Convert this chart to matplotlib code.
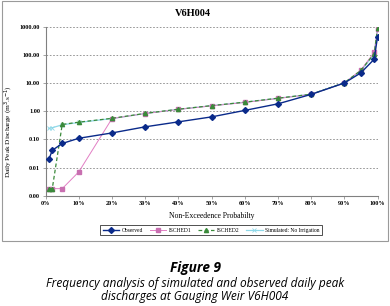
import matplotlib
matplotlib.use("Agg")
import matplotlib.pyplot as plt
from matplotlib.patches import Rectangle
from matplotlib.ticker import FixedLocator, FuncFormatter

prob = [1, 2, 5, 10, 20, 30, 40, 50, 60, 70, 80, 90, 95, 99, 100]
observed = [0.020, 0.041, 0.072, 0.11, 0.17, 0.28, 0.42, 0.63, 1.07, 1.83, 3.96, 10.0, 23.0, 70.0, 435.0]
isched1 = [0.0018, 0.0018, 0.0018, 0.0071, 0.55, 0.83, 1.16, 1.55, 2.05, 2.84, 3.96, 10.0, 29.0, 122.0, 800.0]
isched2 = [0.0018, 0.0018, 0.34, 0.41, 0.56, 0.84, 1.18, 1.58, 2.10, 2.90, 4.0, 10.2, 28.0, 110.0, 900.0]
no_irrig = [0.245, 0.26, 0.33, 0.40, 0.55, 0.83, 1.17, 1.57, 2.08, 2.88, 4.0, 10.1, 27.0, 105.0, 850.0]
yticks = [0.001, 0.01, 0.1, 1, 10, 100, 1000]
xticks = [0, 10, 20, 30, 40, 50, 60, 70, 80, 90, 100]

serif = "Liberation Serif"
fig = plt.figure(figsize=(3.9, 3.06), dpi=100)
fig.patches.append(Rectangle((0.004, 0.214), 0.99, 0.782, transform=fig.transFigure,
                             fill=False, edgecolor="#9a9a9a", linewidth=0.8))
ax = fig.add_axes([0.117, 0.360, 0.851, 0.553])
ax.set_yscale("log")
ax.set_xlim(0, 100)
ax.set_ylim(0.001, 1000)

ax.plot(prob, no_irrig, color="#8fd8e8", lw=0.9, marker="x", ms=2.2, mew=0.6, label="Simulated: No Irrigation", zorder=2)
ax.plot(prob, isched1, color="#e27fc4", lw=0.7, ls="-", marker="s", ms=3, mfc="#c86fb0", mec="#c86fb0", label="ISCHED1", zorder=3)
ax.plot(prob, isched2, color="#3a8a3a", lw=0.9, ls=(0, (3, 2)), marker="^", ms=3, mfc="#3a8a3a", mec="#3a8a3a", label="ISCHED2", zorder=4)
ax.plot(prob, observed, color="#0a2a8a", lw=1.0, marker="D", ms=3, mfc="#0a2a8a", mec="#0a2a8a", label="Observed", zorder=5)

ax.yaxis.set_major_locator(FixedLocator(yticks))
ax.yaxis.set_minor_locator(FixedLocator([]))
ax.yaxis.set_major_formatter(FuncFormatter(lambda v, p: f"{v:.2f}"))
ax.xaxis.set_major_locator(FixedLocator(xticks))
ax.xaxis.set_major_formatter(FuncFormatter(lambda v, p: f"{int(v)}%"))
ax.grid(axis="y", color="#888888", ls=(0, (2, 2)), lw=0.6)
ax.set_axisbelow(True)
for s in ["top", "right"]:
    ax.spines[s].set_visible(False)
for s in ["left", "bottom"]:
    ax.spines[s].set_color("#808080")
    ax.spines[s].set_linewidth(0.8)
ax.tick_params(labelsize=4.5, length=2, width=0.5, color="#808080", pad=2)
for t in ax.get_xticklabels() + ax.get_yticklabels():
    t.set_fontfamily(serif)
    t.set_fontweight("bold")

ax.set_xlabel("Non-Exceedence Probabilty", fontsize=5.5, family=serif, labelpad=4)
ax.set_ylabel("Daily Peak Discharge (m$^3$.s$^{-1}$)", fontsize=5.2, family=serif)
ax.yaxis.set_label_coords(-0.092, 0.38)
fig.text(0.495, 0.955, "V6H004", ha="center", va="center", fontsize=7.5, fontweight="bold", family=serif)

h, l = ax.get_legend_handles_labels()
order = [3, 1, 2, 0]
leg = fig.legend([h[i] for i in order], [l[i] for i in order], loc="center", bbox_to_anchor=(0.541, 0.248),
                 ncol=4, fontsize=4, frameon=True, fancybox=False, edgecolor="#000000",
                 prop={"family": serif, "size": 4}, handlelength=3, columnspacing=1.2,
                 borderpad=0.4, handletextpad=0.4)
leg.get_frame().set_linewidth(0.6)

cap = ["Open Sans", "DejaVu Sans"]
fig.text(0.5, 0.124, "Figure 9", ha="center", va="center", fontsize=9.8, fontweight="bold", style="italic", family=cap)
fig.text(0.5, 0.075, "Frequency analysis of simulated and observed daily peak", ha="center", va="center", fontsize=8.6, style="italic", family=cap)
fig.text(0.5, 0.032, "discharges at Gauging Weir V6H004", ha="center", va="center", fontsize=8.6, style="italic", family=cap)

fig.savefig("out.png", dpi=100)
